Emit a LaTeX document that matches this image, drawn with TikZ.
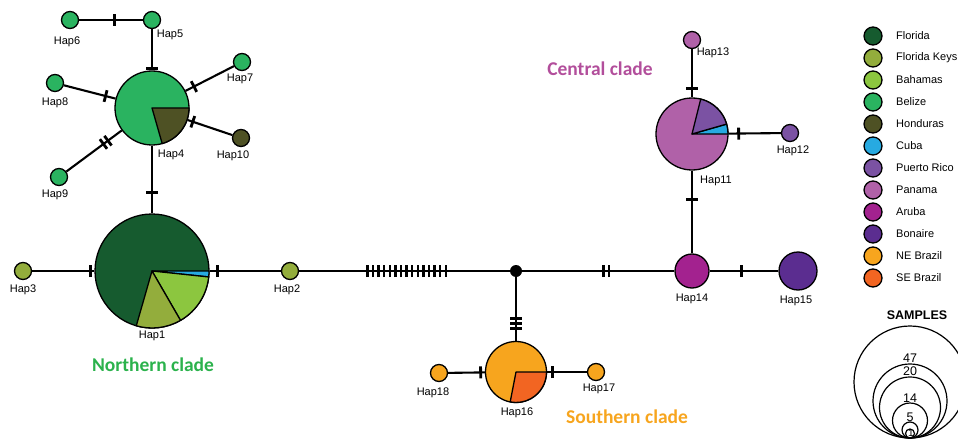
\documentclass[tikz,border=0pt]{standalone}
\usepackage{fontspec}
\setmainfont{Liberation Sans}
\newfontfamily\clfont{Carlito}
\usetikzlibrary{decorations.markings}
\definecolor{cFlorida}{HTML}{165B2F}
\definecolor{cKeys}{HTML}{93AD3C}
\definecolor{cBahamas}{HTML}{8CC63F}
\definecolor{cBelize}{HTML}{2AB360}
\definecolor{cHonduras}{HTML}{4E5124}
\definecolor{cCuba}{HTML}{27AAE1}
\definecolor{cPR}{HTML}{7B52A3}
\definecolor{cPanama}{HTML}{B061A8}
\definecolor{cAruba}{HTML}{A3228F}
\definecolor{cBonaire}{HTML}{5B2D90}
\definecolor{cNEB}{HTML}{F7A51E}
\definecolor{cSEB}{HTML}{F26522}
\definecolor{cNorth}{HTML}{2BB24C}
\definecolor{cCentral}{HTML}{B24E9B}
\definecolor{cSouth}{HTML}{F7A51E}
\begin{document}
\begin{tikzpicture}[x=1pt,y=1pt,
  hap/.style={circle,draw,line width=1.3pt,inner sep=0pt,minimum size=#1},
  lab/.style={inner sep=1pt,font=\fontsize{11}{13}\selectfont},
  clade/.style={inner sep=0pt,font=\clfont\bfseries\fontsize{19.5}{21}\selectfont},
  edge/.style={line width=2.1pt},
  wedge/.style={draw,line width=1.3pt,line join=round},
  tone/.style={postaction={decorate,decoration={markings,mark=at position #1 with {\draw[line width=2.8pt] (0,-6) -- (0,6);}}}},
  ttwo/.style={postaction={decorate,decoration={markings,mark=at position #1 with {\draw[line width=2.8pt] (-2.8,-6) -- (-2.8,6) (2.8,-6) -- (2.8,6);}}}},
  tthree/.style={postaction={decorate,decoration={markings,mark=at position #1 with {\draw[line width=2.6pt] (-5,-6) -- (-5,6) (0,-6) -- (0,6) (5,-6) -- (5,6);}}}},
  tmany/.style={postaction={decorate,decoration={markings,mark=between positions 68.2pt and 147pt step 5.6pt with {\draw[line width=2.4pt] (0,-6) -- (0,6);}}}},
  legc/.style={circle,draw,line width=1.3pt,inner sep=0pt,minimum size=18pt},
  legt/.style={anchor=west,inner sep=1pt,font=\fontsize{11}{13}\selectfont},
  samp/.style={line width=1.2pt},
  num/.style={inner sep=0pt,font=\fontsize{12.5}{14}\selectfont}
]
\useasboundingbox (0,0) rectangle (958,440);

% haplotype circles
\node[hap=17pt,fill=cBelize] (h6) at (70,420) {};
\node[hap=17pt,fill=cBelize] (h5) at (152,420) {};
\node[hap=74pt,fill=cBelize] (h4) at (152,332) {};
\node[hap=17pt,fill=cBelize] (h7) at (242,378) {};
\node[hap=17pt,fill=cBelize] (h8) at (55,357) {};
\node[hap=17pt,fill=cHonduras] (h10) at (241,302) {};
\node[hap=17pt,fill=cBelize] (h9) at (59,263) {};
\node[hap=114pt,fill=cFlorida] (h1) at (152,169) {};
\node[hap=17pt,fill=cKeys] (h3) at (23,169) {};
\node[hap=17pt,fill=cKeys] (h2) at (290,169) {};
\node[circle,fill=black,inner sep=0pt,minimum size=12pt] (dot) at (516,169) {};
\node[hap=34pt,fill=cAruba] (h14) at (692,169) {};
\node[hap=38pt,fill=cBonaire] (h15) at (798,169) {};
\node[hap=72pt,fill=cPanama] (h11) at (692,306) {};
\node[hap=17pt,fill=cPanama] (h13) at (692,400) {};
\node[hap=17pt,fill=cPR] (h12) at (790,307) {};
\node[hap=61pt,fill=cNEB] (h16) at (516,68) {};
\node[hap=17pt,fill=cNEB] (h18) at (439,67) {};
\node[hap=17pt,fill=cNEB] (h17) at (596,68) {};

% pie wedges
\filldraw[wedge,fill=cHonduras] (h4.center) -- ++(0:37) arc[start angle=0,end angle=-74,radius=37] -- cycle;
\filldraw[wedge,fill=cCuba] (h1.center) -- ++(0:57) arc[start angle=0,end angle=-6,radius=57] -- cycle;
\filldraw[wedge,fill=cBahamas] (h1.center) -- ++(-6:57) arc[start angle=-6,end angle=-60,radius=57] -- cycle;
\filldraw[wedge,fill=cKeys] (h1.center) -- ++(-60:57) arc[start angle=-60,end angle=-106,radius=57] -- cycle;
\filldraw[wedge,fill=cCuba] (h11.center) -- ++(0:36) arc[start angle=0,end angle=16,radius=36] -- cycle;
\filldraw[wedge,fill=cPR] (h11.center) -- ++(16:36) arc[start angle=16,end angle=76,radius=36] -- cycle;
\filldraw[wedge,fill=cSEB] (h16.center) -- ++(0:30.5) arc[start angle=0,end angle=-101,radius=30.5] -- cycle;

% connectors
\draw[edge,tone=35.5pt] (h6) -- (h5);
\draw[edge,tone=39.5pt] (h5) -- (h4);
\draw[edge,tone=9.5pt] (h4) -- (h7);
\draw[edge,tone=10.3pt] (h4) -- (h8);
\draw[edge,tone=5.4pt] (h4) -- (h10);
\draw[edge,ttwo=20pt] (h4) -- (h9);
\draw[edge,tone=47pt] (h4) -- (h1);
\draw[edge,tone=58.5pt] (h3) -- (h1);
\draw[edge,tone=8pt] (h1) -- (h2);
\draw[edge,tmany] (h2) -- (dot);
\draw[edge,ttwo=84pt] (dot) -- (h14);
\draw[edge,tone=32pt] (h14) -- (h15);
\draw[edge,tone=29pt] (h11) -- (h14);
\draw[edge,tone=39.5pt] (h13) -- (h11);
\draw[edge,tone=10pt] (h11) -- (h12);
\draw[edge,tthree=46pt] (dot) -- (h16);
\draw[edge,tone=32.5pt] (h18) -- (h16);
\draw[edge,tone=5.5pt] (h16) -- (h17);

% haplotype labels
\node[lab] (l6) at (67,398) {Hap6};
\node[lab] (l5) at (170,405) {Hap5};
\node[lab] (l7) at (240,361) {Hap7};
\node[lab] (l8) at (55,337) {Hap8};
\node[lab] (l4) at (171,285) {Hap4};
\node[lab] (l10) at (233,284) {Hap10};
\node[lab] (l9) at (55,245) {Hap9};
\node[lab] (l3) at (23,150) {Hap3};
\node[lab] (l1) at (152,104) {Hap1};
\node[lab] (l2) at (287,150) {Hap2};
\node[lab] (l14) at (692,141) {Hap14};
\node[lab] (l15) at (796,139) {Hap15};
\node[lab] (l13) at (713,387) {Hap13};
\node[lab] (l12) at (793,289) {Hap12};
\node[lab] (l11) at (716,259) {Hap11};
\node[lab] (l18) at (433,47) {Hap18};
\node[lab] (l16) at (517,27) {Hap16};
\node[lab] (l17) at (599,51) {Hap17};

% clade labels
\node[clade,text=cNorth] (cn) at (153,75) {Northern clade};
\node[clade,text=cCentral] (cc) at (600,371) {Central clade};
\node[clade,text=cSouth] (cs) at (627,23) {Southern clade};

% legend
\foreach \c/\t [count=\i] in {cFlorida/Florida,cKeys/Florida Keys,cBahamas/Bahamas,cBelize/Belize,cHonduras/Honduras,cCuba/Cuba,cPR/Puerto Rico,cPanama/Panama,cAruba/Aruba,cBonaire/Bonaire,cNEB/NE Brazil,cSEB/SE Brazil}{
  \node[legc,fill=\c] (lg\i) at (873,426-22*\i) {};
  \node[legt] (lt\i) at (895,426-22*\i) {\t};
}

% samples legend
\node[inner sep=0pt,font=\bfseries\fontsize{12.5}{14}\selectfont] (sm) at (917,125) {SAMPLES};
\draw[samp] (910,58) circle[radius=56];
\draw[samp] (910,39) circle[radius=37];
\draw[samp] (910,32.5) circle[radius=30.5];
\draw[samp] (910,19.5) circle[radius=17.5];
\draw[samp] (910,10) circle[radius=8];
\draw[samp] (910,6.5) circle[radius=4.5];
\node[num] (s47) at (910,82) {47};
\node[num] (s20) at (910,69) {20};
\node[num] (s14) at (910,42) {14};
\node[num] (s5) at (910,23) {5};
\node[num,font=\fontsize{10}{11}\selectfont] (s1) at (911,7) {1};
\end{tikzpicture}
\end{document}
